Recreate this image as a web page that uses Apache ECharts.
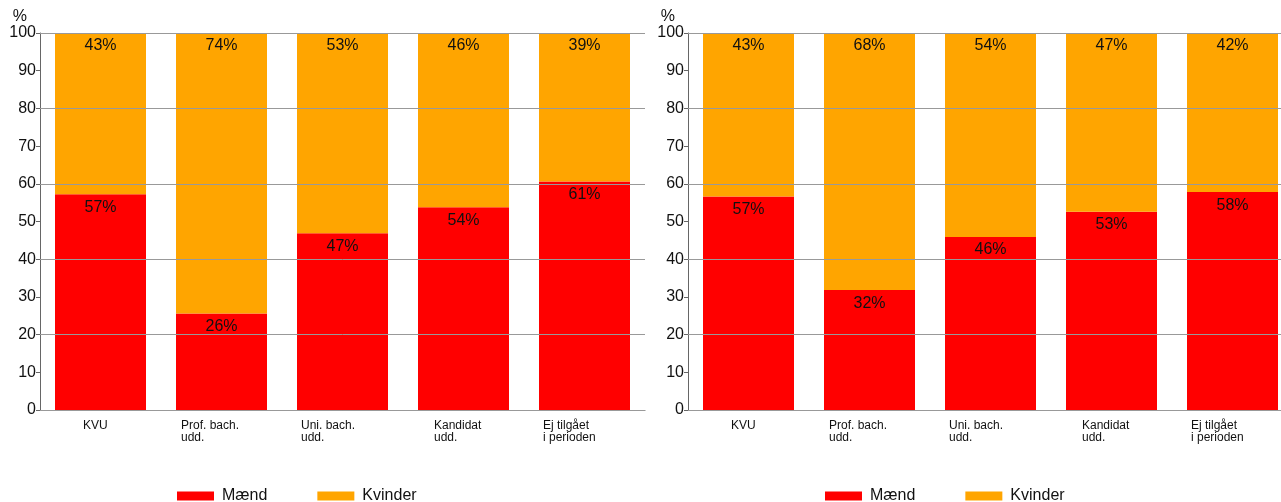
<!DOCTYPE html>
<html>
<head>
<meta charset="utf-8">
<script src="https://cdn.jsdelivr.net/npm/echarts@6/dist/echarts.min.js"></script>
<style>
html,body{margin:0;padding:0;background:#fff;}
#c{width:1281px;height:502px;}
</style>
</head>
<body>
<div id="c"></div>
<script>
// ---- data ----
var categories = ['KVU', 'Prof. bach.\nudd.', 'Uni. bach.\nudd.', 'Kandidat\nudd.', 'Ej tilgået\ni perioden'];
var seriesNames = ['Mænd', 'Kvinder'];
var menLeft = [57.2, 25.6, 46.9, 53.8, 60.6];
var womenLeft = [42.8, 74.4, 53.1, 46.2, 39.4];
var menRight = [56.6, 31.8, 45.9, 52.6, 57.8];
var womenRight = [43.4, 68.2, 54.1, 47.4, 42.2];
var yTicks = [0, 10, 20, 30, 40, 50, 60, 70, 80, 90, 100];
var unitLabel = '%';

// ---- style ----
var FONT = "'Liberation Sans', Arial, sans-serif";
var RED = '#FF0000', ORANGE = '#FFA500';
var labelBoxWidths = [35, 81, 83, 59, 83];

var rich = {};
labelBoxWidths.forEach(function (w, i) {
  rich['c' + i] = { width: w, align: 'left', fontSize: 12, lineHeight: 12, color: '#111', fontFamily: FONT };
});

function xAxisFor(gridIndex) {
  return {
    type: 'category', gridIndex: gridIndex, data: categories,
    axisLine: { lineStyle: { color: '#777', width: 1 } },
    axisTick: { show: false },
    axisLabel: {
      margin: 10, interval: 0, align: 'center',
      formatter: function (v, idx) {
        return v.split('\n').map(function (l) { return '{c' + idx + '|' + l + '}'; }).join('\n');
      },
      rich: rich
    }
  };
}
function yMain(gridIndex) {
  return {
    type: 'value', gridIndex: gridIndex, min: yTicks[0], max: yTicks[yTicks.length - 1], interval: yTicks[1] - yTicks[0],
    name: unitLabel, nameLocation: 'end', nameGap: 8,
    nameTextStyle: { fontSize: 16, color: '#111', fontFamily: FONT, align: 'right', padding: [0, 13, 0, 0] },
    axisLine: { show: true, lineStyle: { color: '#666' } },
    axisTick: { show: true, inside: false, length: 4, lineStyle: { color: '#666' } },
    axisLabel: { fontSize: 16, color: '#111', fontFamily: FONT, margin: 4 },
    splitLine: { show: false }
  };
}
function yGrid(gridIndex) {
  return {
    type: 'value', gridIndex: gridIndex, min: 0, max: 100, interval: 20, z: 3,
    axisLine: { show: false }, axisTick: { show: false }, axisLabel: { show: false },
    splitLine: { show: true, lineStyle: { color: '#999', width: 1 } }
  };
}
function barSeries(name, data, color, gi, stack) {
  return {
    type: 'bar', name: name, data: data, stack: stack,
    xAxisIndex: gi, yAxisIndex: gi * 2,
    barWidth: 91,
    itemStyle: { color: color },
    label: {
      show: true, position: 'insideTop', distance: 5,
      fontSize: 16, color: '#111', fontFamily: FONT,
      formatter: function (p) { return Math.round(p.value) + '%'; }
    }
  };
}
function legendAt(left) {
  return {
    left: left, top: 483, icon: 'rect', itemWidth: 37, itemHeight: 9, itemGap: 50,
    data: seriesNames,
    textStyle: { fontSize: 16, color: '#111', fontFamily: FONT, padding: [0, 0, 0, 3] }
  };
}

var chart = echarts.init(document.getElementById('c'), null, { renderer: 'canvas' });
chart.setOption({
  animation: false,
  textStyle: { fontFamily: FONT },
  grid: [
    { left: 40, top: 33, width: 605, height: 377, containLabel: false, outerBoundsMode: 'none' },
    { left: 688, top: 33, right: -12, height: 377, containLabel: false, outerBoundsMode: 'none' }
  ],
  xAxis: [xAxisFor(0), xAxisFor(1)],
  yAxis: [yMain(0), yGrid(0), yMain(1), yGrid(1)],
  legend: [legendAt(172), legendAt(820)],
  series: [
    barSeries(seriesNames[0], menLeft, RED, 0, 'L'),
    barSeries(seriesNames[1], womenLeft, ORANGE, 0, 'L'),
    barSeries(seriesNames[0], menRight, RED, 1, 'R'),
    barSeries(seriesNames[1], womenRight, ORANGE, 1, 'R')
  ]
});
</script>
</body>
</html>
